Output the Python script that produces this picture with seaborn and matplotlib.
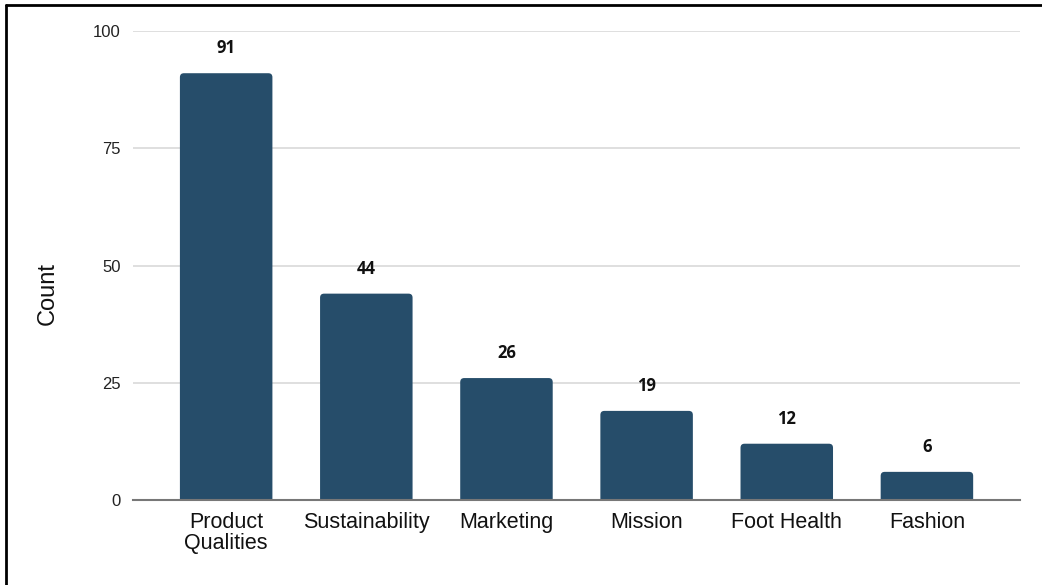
import pandas as pd
import matplotlib.pyplot as plt
import seaborn as sns
from matplotlib.patches import FancyBboxPatch
from matplotlib.lines import Line2D

# Chart data
categories = ["Product\nQualities", "Sustainability", "Marketing", "Mission", "Foot Health", "Fashion"]
counts = [91, 44, 26, 19, 12, 6]
y_ticks = [0, 25, 50, 75, 100]

df = pd.DataFrame({"Theme": categories, "Count": counts})

bar_color = "#264d6a"

sns.set_style("white")
plt.rcParams['font.family'] = ['Liberation Sans', 'DejaVu Sans']

fig = plt.figure(figsize=(10.42, 5.85), dpi=100)
ax = fig.add_axes([0.1276, 0.1453, 0.979 - 0.1276, 0.947 - 0.1453])

sns.barplot(data=df, x="Theme", y="Count", color=bar_color, width=0.66,
            saturation=1, ax=ax, zorder=3)

ax.set_ylim(0, 100)
ax.set_xlim(-0.665, 5.665)
ax.set_yticks(y_ticks)
ax.yaxis.grid(True, color="#d9d9d9", linewidth=1.2, zorder=0)
ax.set_axisbelow(True)

# Swap the plain bars for slightly rounded ones
px_x = 1 / 140.0    # data units per pixel along x
px_y = 1 / 4.69     # data units per pixel along y
for p in list(ax.patches):
    x0, w, h = p.get_x(), p.get_width(), p.get_height()
    rb = FancyBboxPatch((x0, -2), w, h + 2,
                        boxstyle="round,pad=0,rounding_size=%f" % (4 * px_x),
                        mutation_aspect=px_y / px_x,
                        facecolor=bar_color, edgecolor="none", zorder=3)
    p.remove()
    ax.add_patch(rb)

# Value labels
for i, v in enumerate(counts):
    ax.annotate(str(v), (i, v), xytext=(0, 18), textcoords="offset points",
                ha="center", va="center", fontsize=12, fontweight="bold",
                family=["Open Sans", "DejaVu Sans"], color="#111111")

for s in ["top", "right", "left"]:
    ax.spines[s].set_visible(False)
ax.spines["bottom"].set_color("#777777")
ax.spines["bottom"].set_linewidth(1.5)
ax.spines["bottom"].set_zorder(4)

ax.tick_params(axis="both", length=0)
ax.tick_params(axis="x", labelsize=15.5, pad=9, colors="#111111")
ax.tick_params(axis="y", labelsize=12, pad=9, colors="#222222")
for lbl in ax.get_xticklabels():
    lbl.set_linespacing(1.0)
ax.set_xlabel("")
ax.set_ylabel("Count", fontsize=17, color="#111111")
ax.yaxis.set_label_coords(-0.084, 0.44)

# Frame lines along the top and left edges
fig.add_artist(Line2D([6 / 1042, 1], [1 - 5 / 585, 1 - 5 / 585], color="black",
                      linewidth=2, transform=fig.transFigure))
fig.add_artist(Line2D([6 / 1042, 6 / 1042], [0, 1 - 5 / 585], color="black",
                      linewidth=2, transform=fig.transFigure))

plt.savefig("out.png", dpi=100, facecolor="white")
